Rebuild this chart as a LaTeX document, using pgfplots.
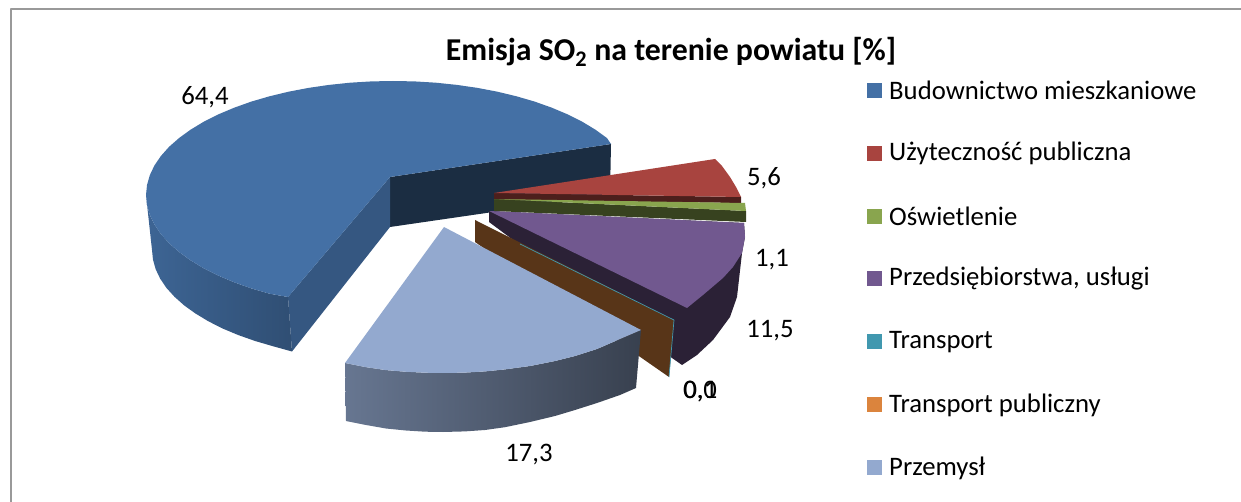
\documentclass[border=0pt]{standalone}
\usepackage{pgfplots}
\pgfplotsset{compat=1.18}
\usepackage{fontspec}
\setmainfont{Carlito}
\definecolor{cA}{HTML}{4470A5}\definecolor{cB}{HTML}{A8443F}\definecolor{cC}{HTML}{89A54E}
\definecolor{cD}{HTML}{71588F}\definecolor{cE}{HTML}{4198AF}\definecolor{cF}{HTML}{DB843D}\definecolor{cG}{HTML}{93A9CF}
\newcommand{\lab}{\fontsize{26.7}{30}\selectfont}
\begin{document}
\begin{tikzpicture}
\begin{axis}[width=1241pt,height=502pt,scale only axis,xmin=0,xmax=1241,ymin=0,ymax=502,y dir=reverse,
 axis lines=none,clip=false,no markers,every axis plot/.append style={draw=none,line join=round}]
\path[use as bounding box] (axis cs:0,0) rectangle (axis cs:1241,502);
% frame
\addplot[draw=gray!80!white,line width=2pt] coordinates {(11,502)(11,9.5)(1241,9.5)};
% blue slice (64,4): inner faces, wall, top
\addplot[fill=cA!40!black] coordinates {(390,177)(611,144)(610,195)(390,227)} -- cycle;
\addplot[fill=cA!78!black] coordinates {(390,177)(288,297)(292,351.5)(390,227)} -- cycle;
\addplot[shading=axis,left color=cA!90!black,right color=cA!70!black] coordinates {
(146,195)(147,204.9)(149.8,214.8)(154.4,224.5)(160.9,234)(169.1,243.2)(179.1,252)(190.7,260.4)(203.8,268.3)(218.3,275.6)(234.2,282.3)(251.3,288.4)(269.5,293.7)(288,297)
(292,351.5)(272.5,346.1)(254.8,340.9)(238.1,335)(222.6,328.5)(208.4,321.3)(195.6,313.6)(184.3,305.5)(174.6,296.9)(166.5,288)(160.2,278.7)(155.7,269.3)(153,259.7)(152,250)} -- cycle;
\addplot[fill=cA] coordinates {(390,177)(611,144)(606.9,138)(595.3,129.6)(582.2,121.7)(567.7,114.4)(551.8,107.7)(534.7,101.6)(516.5,96.3)(497.4,91.7)(477.5,87.9)(456.9,84.9)(435.9,82.7)(414.5,81.4)(393,81)(371.5,81.4)(350.1,82.7)(329.1,84.9)(308.5,87.9)(288.6,91.7)(269.5,96.3)(251.3,101.6)(234.2,107.7)(218.3,114.4)(203.8,121.7)(190.7,129.6)(179.1,138)(169.1,146.8)(160.9,156)(154.4,165.5)(149.8,175.2)(147,185.1)(146,195)(147,204.9)(149.8,214.8)(154.4,224.5)(160.9,234)(169.1,243.2)(179.1,252)(190.7,260.4)(203.8,268.3)(218.3,275.6)(234.2,282.3)(251.3,288.4)(269.5,293.7)(288,297)} -- cycle;
% red slice (5,6)
\addplot[fill=cB!45!black] coordinates {(494,193)(741,197)(741,203)(494,200)} -- cycle;
\addplot[fill=cB] coordinates {(494,193)(715,159)(722,166)(730,177)(736,187)(741,197)} -- cycle;
% green slice (1,1)
\addplot[fill=cC!40!black] coordinates {(494,199)(746,211)(746,222)(494,211)} -- cycle;
\addplot[fill=cC] coordinates {(494,199)(745,203)(746,211)} -- cycle;
% purple slice (11,5)
\addplot[fill=cD!38!black] coordinates {(489,211)(744,223)(745,237)(742,253)(737,297)(730,317)(713,340)(697,355)(682,365)(672,358)(489,222)} -- cycle;
\addplot[fill=cD] coordinates {(489,211)(744,223)(745,237)(742,253)(733,267)(723,278)(703,295)(687,308)} -- cycle;
% brown / orange slice (0,0)
\addplot[fill=cF!40!black] coordinates {(475,220)(674,320)(669,377)(475,242)} -- cycle;
% teal slice (0,1)
\addplot[draw=cE,line width=0.7pt] coordinates {(520,244)(674,320)(669,377)};
% light slice (17,3)
\addplot[shading=axis,left color=cG!70!black,middle color=cG!55!black,right color=cG!38!black] coordinates {
(345,363)(365,367)(385,370)(405,371.7)(425,372.7)(443,373)(465,372.6)(485,371.4)(505,369.4)(530,366)(555,361)(575,356)(597,349)(620,339)(641,330)
(636,388)(620,395)(597,403)(575,410)(555,416)(530,422)(505,427.2)(485,430)(465,431.4)(443,432)(425,431.7)(406,430.5)(386,428.5)(366,425)(346,421)} -- cycle;
\addplot[fill=cG] coordinates {(444,227)(641,330)(620,339)(597,349)(575,356)(555,361)(530,366)(505,369.4)(485,371.4)(465,372.6)(443,373)(425,372.7)(405,371.7)(385,370)(365,367)(345,363)} -- cycle;
% legend swatches
\addplot[fill=cA] coordinates {(867,83)(882,83)(882,98)(867,98)} -- cycle;
\addplot[fill=cB] coordinates {(867,146)(882,146)(882,161)(867,161)} -- cycle;
\addplot[fill=cC] coordinates {(867,209)(882,209)(882,224)(867,224)} -- cycle;
\addplot[fill=cD] coordinates {(867,271)(882,271)(882,286)(867,286)} -- cycle;
\addplot[fill=cE] coordinates {(867,334)(882,334)(882,349)(867,349)} -- cycle;
\addplot[fill=cF] coordinates {(867,397)(882,397)(882,412)(867,412)} -- cycle;
\addplot[fill=cG] coordinates {(867,460)(882,460)(882,475)(867,475)} -- cycle;
% texts
\node[inner sep=0pt,font=\fontsize{31.8}{36}\selectfont\bfseries] at (axis cs:671,52) {Emisja SO$_{\mathbf{2}}$ na terenie powiatu [\%]};
\foreach \t/\y in {Budownictwo mieszkaniowe/90,Użyteczność publiczna/153,Oświetlenie/216,{Przedsiębiorstwa, usługi}/279,Transport/342,Transport publiczny/405,Przemysł/468}
 {\edef\temp{\noexpand\node[anchor=west,inner sep=0pt,font=\noexpand\lab] at (axis cs:889,\y) {\t};}\temp}
\node[inner sep=0pt,font=\lab] at (axis cs:205,97) {64,4};
\node[inner sep=0pt,font=\lab] at (axis cs:764,178) {5,6};
\node[inner sep=0pt,font=\lab] at (axis cs:772,260) {1,1};
\node[inner sep=0pt,font=\lab] at (axis cs:770,331) {11,5};
\node[inner sep=0pt,font=\lab] at (axis cs:700,392) {0,0};
\node[inner sep=0pt,font=\lab] at (axis cs:700.5,392) {0,1};
\node[inner sep=0pt,font=\lab] at (axis cs:529,455) {17,3};
\end{axis}
\end{tikzpicture}
\end{document}
